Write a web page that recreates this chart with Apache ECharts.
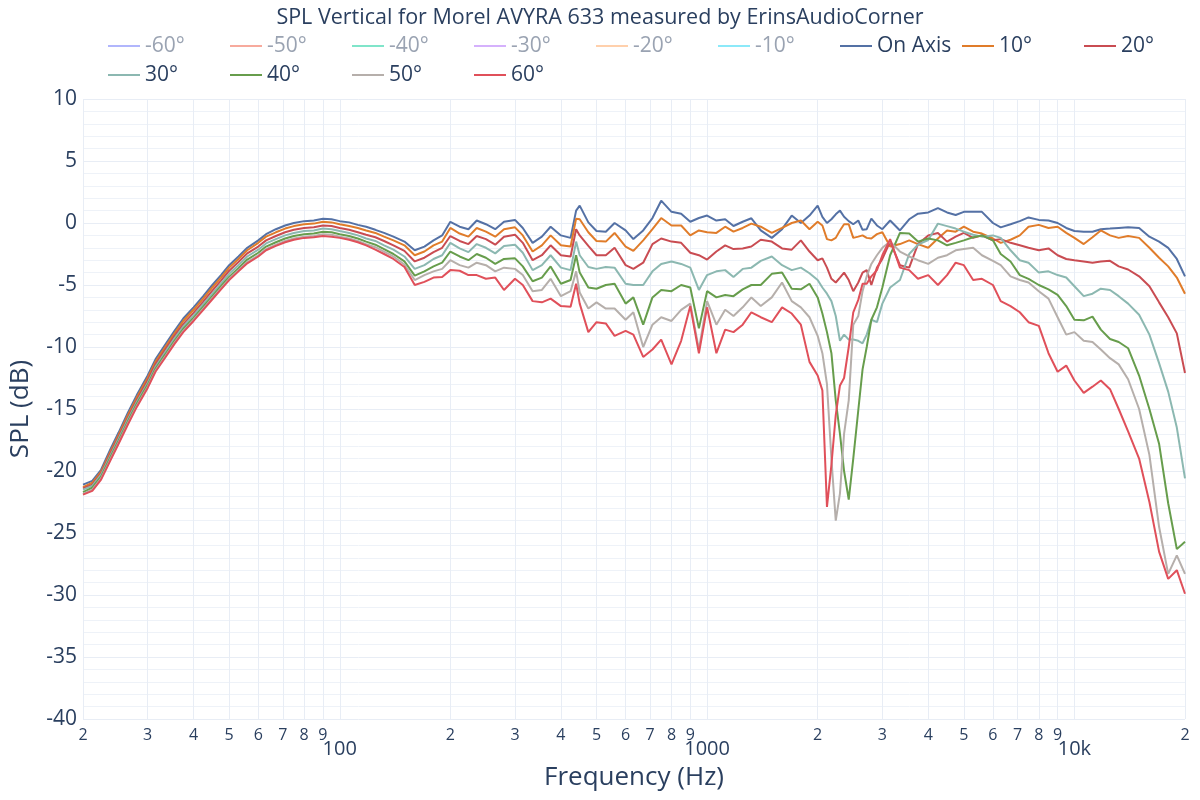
<!DOCTYPE html>
<html><head><meta charset="utf-8">
<script src="https://cdn.jsdelivr.net/npm/echarts@6/dist/echarts.min.js"></script>
<style>html,body{margin:0;padding:0;background:#fff}#c{width:1200px;height:800px}</style>
</head><body><div id="c"></div>
<script>
const freqs = [20,21.2,22.4,23.7,25,26.5,28,30,31.5,33.5,
35.5,37.5,40,42.5,45,47.5,50,53,56,60,
63,67,71,75,80,85,90,95,100,106,
112,118,125,132,140,150,160,170,180,190,
200,212,224,236,250,265,280,300,315,335,
355,375,400,425,440,
450,475,500,530,560,600,
630,670,710,750,800,850,900,950,1000,1060,
1120,1180,1250,1320,1400,1500,1600,1700,1800,1900,
2000,2060,2120,2180,2240,2300,2360,2430,2500,2580,2650,2720,2800,2900,
3000,3150,3350,3550,3750,4000,4250,4500,4750,5000,
5300,5600,6000,6300,6700,7100,7500,8000,8500,9000,
9500,10000,10600,11200,11800,12500,13200,14000,15000,16000,
17000,18000,19000,20000];

const splOnAxis = [-21.1,-20.8,-19.9,-18.3,-16.9,-15.3,-13.9,-12.3,-11.0,-9.8,
-8.7,-7.7,-6.8,-5.9,-5.0,-4.2,-3.4,-2.7,-2.0,-1.4,
-0.9,-0.5,-0.2,0.0,0.15,0.2,0.35,0.3,0.15,0.05,
-0.15,-0.3,-0.55,-0.8,-1.1,-1.5,-2.2,-1.9,-1.4,-1.0,
0.1,-0.3,-0.5,0.2,-0.1,-0.5,0.1,0.25,-0.4,-1.6,
-1.1,-0.3,-1.0,-1.2,1.0,
1.4,0.05,-0.65,-0.7,0.0,-0.6,
-1.3,-0.6,0.4,1.8,0.9,0.75,0.1,0.4,0.6,0.2,
0.3,-0.24,0.1,0.38,-0.6,-1.2,-0.5,0.6,0.0,0.6,
1.4,0.5,0.0,0.3,0.7,1.0,0.5,0.15,-0.1,0.2,-0.55,-0.5,0.35,-0.2,
-0.5,0.2,-0.6,0.3,0.75,0.85,1.2,0.85,0.65,0.9,
0.9,0.9,0.0,-0.35,-0.1,0.15,0.45,0.25,0.2,0.0,
-0.4,-0.65,-0.7,-0.7,-0.5,-0.45,-0.4,-0.35,-0.4,-1.1,
-1.5,-2.0,-2.9,-4.3];

const spl10 = [-21.3,-20.95,-20.05,-18.5,-17.1,-15.5,-14.1,-12.5,-11.2,-10.0,
-8.9,-7.9,-7.0,-6.1,-5.2,-4.4,-3.6,-2.9,-2.2,-1.6,
-1.1,-0.75,-0.45,-0.25,-0.1,-0.05,0.1,0.05,-0.1,-0.25,
-0.4,-0.6,-0.8,-1.1,-1.4,-1.8,-2.6,-2.3,-1.8,-1.5,
-0.4,-0.85,-1.1,-0.4,-0.7,-1.1,-0.5,-0.35,-1.0,-2.3,
-1.8,-1.0,-1.8,-1.9,0.35,
0.3,-0.75,-1.45,-1.5,-0.8,-1.9,
-2.25,-1.4,-0.5,0.4,-0.2,-0.2,-1.0,-0.6,-0.75,-0.8,
-0.3,-0.7,-0.4,-0.05,-0.3,-0.8,-0.4,0.0,0.2,-0.5,
0.1,-0.2,-1.3,-1.4,-1.2,-0.6,-0.1,-0.1,-1.2,-1.1,-1.0,-1.2,-1.25,-0.9,
-0.75,-1.9,-1.7,-1.4,-1.7,-2.0,-1.25,-0.6,-0.7,-0.3,
-0.7,-0.85,-1.25,-1.6,-1.35,-1.0,-0.3,-0.15,-0.4,-0.3,
-0.8,-1.2,-1.7,-1.15,-0.6,-1.0,-1.2,-1.05,-1.2,-2.0,
-2.8,-3.5,-4.4,-5.7];

const spl20 = [-21.4,-21.1,-20.2,-18.65,-17.25,-15.7,-14.3,-12.7,-11.4,-10.2,
-9.1,-8.15,-7.25,-6.35,-5.45,-4.65,-3.85,-3.15,-2.45,-1.9,
-1.4,-1.05,-0.75,-0.55,-0.4,-0.35,-0.2,-0.25,-0.4,-0.55,
-0.75,-0.95,-1.15,-1.45,-1.8,-2.25,-3.1,-2.8,-2.35,-2.0,
-1.05,-1.45,-1.7,-1.05,-1.3,-1.75,-1.1,-0.95,-1.6,-3.0,
-2.6,-1.8,-2.6,-2.7,-0.5,
-1.0,-1.85,-2.6,-2.6,-2.0,-3.4,
-3.7,-3.2,-1.7,-1.25,-1.5,-1.6,-2.4,-2.6,-2.95,-2.3,
-1.8,-2.1,-2.05,-1.9,-1.35,-1.5,-2.05,-2.15,-1.4,-2.3,
-3.0,-2.85,-3.6,-4.5,-4.8,-4.4,-4.0,-4.6,-5.5,-4.8,-4.0,-3.8,-5.0,-3.6,
-2.9,-1.5,-3.4,-3.6,-1.7,-1.0,-0.8,-1.5,-1.1,-0.8,
-1.2,-1.0,-1.4,-1.3,-1.6,-1.8,-2.0,-2.2,-2.05,-2.6,
-2.9,-3.0,-3.1,-3.2,-3.1,-3.05,-3.5,-3.75,-4.3,-5.1,
-6.4,-7.6,-8.9,-12.1];

const spl30 = [-21.5,-21.2,-20.3,-18.8,-17.4,-15.85,-14.45,-12.9,-11.6,-10.4,
-9.3,-8.35,-7.45,-6.55,-5.7,-4.9,-4.1,-3.4,-2.7,-2.15,
-1.65,-1.3,-1.0,-0.8,-0.65,-0.6,-0.45,-0.5,-0.65,-0.8,
-1.0,-1.25,-1.45,-1.8,-2.15,-2.7,-3.7,-3.4,-2.9,-2.6,
-1.6,-2.05,-2.35,-1.7,-2.0,-2.45,-1.85,-1.75,-2.4,-3.8,
-3.4,-2.6,-3.6,-3.8,-1.5,
-2.6,-3.55,-3.7,-3.55,-3.6,-4.9,
-5.0,-5.0,-3.9,-3.3,-3.1,-3.3,-3.6,-5.4,-4.2,-3.9,
-3.8,-4.35,-3.7,-3.6,-3.05,-2.7,-3.4,-3.8,-3.6,-4.05,
-4.6,-5.2,-5.7,-6.3,-7.5,-9.5,-9.0,-9.4,-9.4,-9.5,-9.7,-9.0,-7.8,-8.0,
-6.5,-5.2,-4.6,-2.5,-1.75,-1.37,-0.05,-0.25,-0.45,-0.7,
-0.95,-1.1,-1.0,-1.2,-2.2,-3.0,-3.2,-4.0,-3.9,-4.2,
-4.4,-5.1,-5.9,-5.7,-5.3,-5.4,-5.9,-6.5,-7.4,-9.0,
-11.3,-13.6,-16.5,-20.6];

const spl40 = [-21.7,-21.35,-20.45,-18.95,-17.55,-16.0,-14.6,-13.05,-11.75,-10.6,
-9.5,-8.55,-7.65,-6.75,-5.9,-5.1,-4.35,-3.65,-2.95,-2.4,
-1.9,-1.55,-1.25,-1.05,-0.9,-0.85,-0.7,-0.75,-0.9,-1.05,
-1.25,-1.5,-1.75,-2.1,-2.5,-3.1,-4.25,-3.9,-3.5,-3.2,
-2.3,-2.7,-3.0,-2.5,-2.8,-3.3,-2.9,-2.85,-3.5,-4.7,
-4.4,-3.5,-4.9,-4.6,-2.6,
-4.0,-5.2,-5.3,-5.0,-4.9,-6.5,
-6.0,-8.2,-6.0,-5.4,-5.5,-5.0,-5.2,-8.5,-5.5,-6.0,
-5.8,-5.9,-5.35,-5.0,-5.0,-4.1,-4.0,-5.3,-5.35,-4.9,
-6.0,-7.3,-8.8,-10.5,-14.3,-17.0,-20.0,-22.3,-19.0,-15.1,-11.8,-10.0,-7.8,-6.8,
-5.2,-2.6,-0.8,-0.85,-1.5,-1.25,-1.4,-1.8,-1.6,-1.4,
-1.15,-1.0,-1.4,-2.5,-3.1,-4.2,-4.5,-5.0,-5.35,-5.8,
-6.7,-7.8,-7.85,-7.55,-8.6,-9.35,-9.6,-10.1,-12.3,-15.0,
-17.8,-22.6,-26.3,-25.7];

const spl50 = [-21.85,-21.5,-20.6,-19.1,-17.7,-16.15,-14.75,-13.2,-11.9,-10.75,
-9.65,-8.7,-7.8,-6.9,-6.05,-5.25,-4.5,-3.8,-3.15,-2.6,
-2.1,-1.75,-1.45,-1.25,-1.1,-1.05,-0.9,-0.95,-1.1,-1.25,
-1.45,-1.7,-1.95,-2.3,-2.7,-3.35,-4.6,-4.2,-3.9,-3.7,
-3.0,-3.4,-3.6,-3.2,-3.4,-3.9,-3.6,-3.7,-4.2,-5.5,
-5.4,-4.5,-5.9,-5.5,-3.9,
-5.6,-6.9,-6.4,-6.9,-6.9,-7.8,
-7.2,-10.0,-8.2,-7.6,-7.9,-7.0,-6.5,-10.2,-6.3,-8.2,
-7.0,-7.5,-6.8,-6.0,-6.7,-6.0,-4.8,-6.3,-6.8,-7.6,
-9.1,-10.5,-13.0,-19.0,-24.0,-21.8,-17.0,-14.3,-8.2,-7.5,-5.5,-4.3,-3.3,-2.6,
-2.0,-1.5,-2.3,-2.7,-3.0,-3.3,-2.8,-2.6,-2.2,-2.1,
-2.0,-2.6,-3.05,-3.4,-4.3,-4.6,-4.8,-5.5,-6.1,-7.6,
-9.0,-8.8,-9.5,-9.6,-10.2,-10.9,-11.4,-12.6,-15.0,-18.7,
-24.5,-28.3,-26.8,-28.3];

const spl60 = [-21.9,-21.6,-20.7,-19.2,-17.8,-16.25,-14.85,-13.3,-12.0,-10.85,
-9.75,-8.8,-7.9,-7.0,-6.15,-5.35,-4.6,-3.9,-3.25,-2.7,
-2.2,-1.85,-1.55,-1.35,-1.2,-1.15,-1.05,-1.1,-1.2,-1.35,
-1.55,-1.8,-2.15,-2.5,-2.9,-3.55,-5.0,-4.75,-4.4,-4.35,
-3.8,-3.85,-4.2,-4.2,-4.5,-4.4,-5.4,-4.5,-5.0,-6.3,
-6.4,-6.1,-6.7,-6.75,-4.9,
-6.5,-8.8,-8.0,-8.1,-9.1,-8.7,
-9.0,-10.8,-10.2,-9.4,-11.4,-9.5,-6.7,-10.5,-6.8,-10.5,
-8.6,-8.8,-8.2,-7.2,-7.6,-8.0,-6.8,-7.3,-8.2,-11.2,
-12.3,-13.5,-22.9,-19.5,-15.5,-13.1,-12.5,-10.0,-7.2,-6.2,-4.9,-4.9,-4.3,-3.8,
-2.6,-1.3,-3.6,-3.8,-4.5,-4.2,-5.0,-4.2,-3.2,-3.4,
-4.6,-4.5,-5.0,-6.3,-6.7,-7.2,-8.0,-8.3,-10.5,-12.0,
-11.5,-12.7,-13.7,-13.2,-12.7,-13.4,-15.0,-16.8,-19.0,-22.5,
-26.5,-28.7,-28.0,-29.9];

const hiddenNames = ['-60°','-50°','-40°','-30°','-20°','-10°'];
const hiddenColors = ['#b1b6fc','#f7aa9d','#80e5ca','#d5b1fc','#ffd0ac','#8ce9f9'];
const shownNames = ['On Axis','10°','20°','30°','40°','50°','60°'];
const shownColors = ['#5471a5','#e07c2a','#c94c52','#8cb8b1','#679d4c','#b6afab','#e0505a'];
const shownValues = [splOnAxis, spl10, spl20, spl30, spl40, spl50, spl60];

const gridTicks = [20,30,40,50,60,70,80,90,100,200,300,400,500,600,700,800,900,1000,
  2000,3000,4000,5000,6000,7000,8000,9000,10000,20000];
const digitTicks = [20,30,40,50,60,70,80,90,200,300,400,500,600,700,800,900,
  2000,3000,4000,5000,6000,7000,8000,9000,20000];
const decadeTicks = [100,1000,10000];
const decadeText = {100:'100',1000:'1000',10000:'10k'};

const FONT = '"Open Sans","Noto Sans",sans-serif';
const TXT = '#2a3f5f';
const HID_TXT = '#9aa3b2';
const GRIDC = '#e8edf5';

const series = [];
hiddenNames.forEach((n,i)=>{
  series.push({name:n,type:'line',data:[],symbol:'none',
    lineStyle:{color:hiddenColors[i],width:2},itemStyle:{color:hiddenColors[i]}});
});
shownNames.forEach((n,i)=>{
  series.push({name:n,type:'line',symbol:'none',showSymbol:false,
    data: freqs.map((f,k)=>[f, shownValues[i][k]]),
    lineStyle:{color:shownColors[i],width:2},itemStyle:{color:shownColors[i]},
    emphasis:{disabled:true}});
});

const legendData = hiddenNames.map(n=>({name:n,textStyle:{color:HID_TXT}}))
  .concat(shownNames.map(n=>({name:n})));

function digitLabel(v){
  const e = Math.floor(Math.log10(v)+1e-9);
  return String(Math.round(v/Math.pow(10,e)));
}

const option = {
  animation:false,
  backgroundColor:'#fff',
  textStyle:{fontFamily:FONT},
  title:{text:'SPL Vertical for Morel AVYRA 633 measured by ErinsAudioCorner',
    left:'center',top:2,
    textStyle:{fontSize:21.5,fontWeight:'normal',color:TXT,fontFamily:FONT}},
  legend:{left:108,top:34,padding:0,width:1150,itemWidth:32,itemHeight:2,itemGap:5,
    icon:'rect',selectedMode:false,
    textStyle:{fontSize:21,color:TXT,width:80,lineHeight:24,fontFamily:FONT},
    data:legendData},
  grid:{left:80,right:15,top:99,bottom:81},
  xAxis:[{type:'log',logBase:10,min:20,max:20000,position:'bottom',
      axisLine:{show:false},
      axisTick:{show:false,customValues:gridTicks},
      splitLine:{show:true,lineStyle:{color:GRIDC,width:1}},
      axisLabel:{customValues:digitTicks,formatter:digitLabel,fontSize:16,color:TXT,margin:8,fontFamily:FONT}},
    {type:'log',logBase:10,min:20,max:20000,position:'bottom',
      axisLine:{show:false},
      axisTick:{show:false,customValues:decadeTicks},
      splitLine:{show:false},
      axisLabel:{customValues:decadeTicks,formatter:v=>decadeText[Math.round(v)]||'',fontSize:20,color:TXT,margin:20,fontFamily:FONT},
      name:'Frequency (Hz)',nameLocation:'middle',nameGap:46,
      nameTextStyle:{fontSize:26,color:TXT,fontFamily:FONT}}],
  yAxis:{type:'value',min:-40,max:10,interval:5,
    axisLine:{show:false},axisTick:{show:false},
    axisLabel:{fontSize:21,color:TXT,margin:6,fontFamily:FONT},
    splitLine:{show:true,lineStyle:{color:GRIDC,width:1}},
    minorTick:{show:false,splitNumber:5},
    minorSplitLine:{show:true,lineStyle:{color:'#eef2f8',width:1}},
    name:'SPL (dB)',nameLocation:'middle',nameGap:49,
    nameTextStyle:{fontSize:26,color:TXT,fontFamily:FONT}},
  series:series
};

const chart = echarts.init(document.getElementById('c'),null,{renderer:'canvas'});
chart.setOption(option);
</script></body></html>
